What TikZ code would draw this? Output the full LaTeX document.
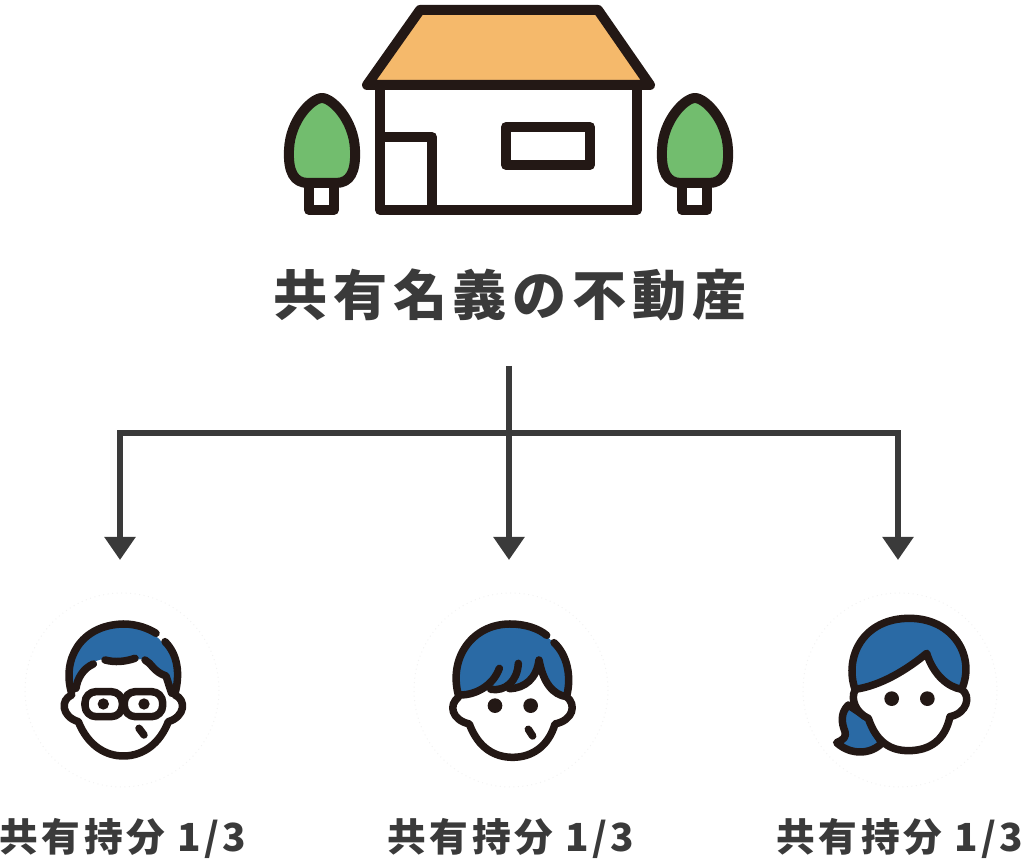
\documentclass[tikz,border=0pt]{standalone}
\usepackage{fontspec}
\usetikzlibrary{arrows.meta}
\newfontfamily\titlefont[LetterSpace=10.5]{Noto Sans CJK JP}
\newfontfamily\sharefont[LetterSpace=9]{Noto Sans CJK JP}
\definecolor{inkline}{HTML}{231815}
\definecolor{roofcol}{HTML}{F5B96B}
\definecolor{treecol}{HTML}{72BD6E}
\definecolor{haircol}{HTML}{2A6AA5}
\definecolor{textcol}{HTML}{3A3A3A}
\tikzset{
	ink/.style={draw=inkline, line width=0.1cm, line join=round, line cap=round},
	faceink/.style={draw=inkline, line width=0.075cm, line join=round, line cap=round},
	pupil/.style={fill=inkline},
	connector/.style={draw=textcol, line width=0.055cm},
	pointer/.style={connector, -{Triangle[width=0.3cm,length=0.23cm]}},
	faintring/.style={draw=black!5, line width=0.1mm, densely dotted},
	sharelabel/.style={text=textcol, font=\sharefont\bfseries\fontsize{11}{13}\selectfont, inner sep=0pt}
}
\begin{document}
\begin{tikzpicture}[x=0.01cm, y=-0.01cm]
	\useasboundingbox (0, 0) rectangle (1024, 868);
	
	%%%%% HOUSE %%%%%
	\draw[ink, fill=roofcol] (420, 10) -- (598, 10) -- (650, 85) -- (367, 85) -- cycle;
	\draw[ink] (380, 85) -- (380, 210) -- (637, 210) -- (637, 85);
	\draw[ink] (380, 137) -- (432, 137) -- (432, 210);
	\draw[ink] (506, 127) rectangle (590, 165);
	
	%%%%% TREES %%%%%
	\foreach \treex in {322, 695} {
		\draw[ink] (\treex-13, 183) -- (\treex-13, 210) -- (\treex+12, 210) -- (\treex+12, 183);
		\draw[ink, fill=treecol] (\treex, 98) .. controls (\treex+10, 98) and (\treex+32, 120) .. (\treex+33, 150)
			.. controls (\treex+34, 172) and (\treex+28, 183) .. (\treex+14, 183) -- (\treex-14, 183)
			.. controls (\treex-28, 183) and (\treex-34, 172) .. (\treex-33, 150)
			.. controls (\treex-32, 120) and (\treex-10, 98) .. (\treex, 98) -- cycle;
	}
	
	%%%%% TEXT %%%%%
	\node[text=textcol, font=\titlefont\bfseries\fontsize{15.4}{18}\selectfont, inner sep=0pt] (title) at (510, 295) {共有名義の不動産};
	\node[sharelabel] (sharea) at (123, 838) {共有持分 1/3};
	\node[sharelabel] (shareb) at (511, 838) {共有持分 1/3};
	\node[sharelabel] (sharec) at (900, 838) {共有持分 1/3};
	
	%%%%% CONNECTORS %%%%%
	\coordinate (stem) at (509, 366);
	\coordinate (split) at (509, 433);
	\coordinate (heada) at (120, 560);
	\coordinate (headb) at (509, 560);
	\coordinate (headc) at (898, 560);
	\draw[pointer] (stem) -- (headb);
	\draw[pointer] (split) -| (heada);
	\draw[pointer] (split) -| (headc);
	
	%%%%% RINGS %%%%%
	\draw[faintring] (122, 690) circle (97);
	\draw[faintring] (511, 690) circle (97);
	\draw[faintring] (900, 690) circle (97);
	
	%%%%% FIRST PERSON %%%%%
	\begin{scope}[shift={(40, 600)}, scale=1/3]
		\fill[haircol] (95, 285) .. controls (60, 180) and (120, 75) .. (250, 72) .. controls (340, 80) and (420, 140) .. (405, 285)
			.. controls (385, 220) and (340, 190) .. (315, 178) -- (185, 178) .. controls (130, 190) and (105, 240) .. (95, 285) -- cycle;
		\draw[faceink] (95, 280) .. controls (65, 180) and (120, 75) .. (250, 72) .. controls (290, 72) and (325, 85) .. (348, 100);
		\draw[faceink] (375, 125) .. controls (415, 165) and (420, 225) .. (405, 280);
		\draw[faceink] (108, 265) .. controls (112, 235) and (130, 205) .. (160, 192);
		\draw[faceink] (195, 180) .. controls (225, 188) and (255, 185) .. (285, 175);
		\draw[faceink] (315, 180) .. controls (335, 190) and (340, 215) .. (378, 228) -- (395, 280);
		\draw[faceink] (95, 285) .. controls (60, 300) and (65, 350) .. (115, 365)
			.. controls (145, 440) and (200, 468) .. (250, 468) .. controls (310, 468) and (360, 430) .. (385, 365)
			.. controls (435, 350) and (440, 300) .. (405, 285);
		\draw[faceink, rounded corners=0.11cm] (135, 275) rectangle (247, 350);
		\draw[faceink, rounded corners=0.11cm] (253, 275) rectangle (368, 350);
		\draw[faceink] (247, 300) -- (253, 300);
		\fill[pupil] (190, 312) circle (17);
		\fill[pupil] (312, 312) circle (17);
		\draw[faceink] (297, 385) -- (312, 405);
	\end{scope}
	
	%%%%% SECOND PERSON %%%%%
	\begin{scope}[shift={(430, 600)}, scale=1/3]
		\fill[haircol] (85, 285) .. controls (55, 170) and (130, 72) .. (240, 72) .. controls (340, 72) and (430, 150) .. (410, 288)
			.. controls (370, 285) and (340, 250) .. (327, 180) .. controls (320, 230) and (280, 270) .. (180, 265) .. controls (150, 285) and (120, 290) .. (85, 285) -- cycle;
		\draw[faceink] (85, 285) .. controls (55, 170) and (130, 72) .. (240, 72) .. controls (285, 72) and (325, 85) .. (350, 106);
		\draw[faceink] (372, 128) .. controls (412, 165) and (425, 230) .. (410, 288);
		\draw[faceink] (90, 285) .. controls (140, 285) and (190, 255) .. (208, 205);
		\draw[faceink] (182, 268) .. controls (225, 275) and (262, 245) .. (265, 190);
		\draw[faceink] (238, 266) .. controls (285, 265) and (320, 235) .. (327, 180)
			.. controls (340, 250) and (370, 285) .. (410, 290);
		\draw[faceink] (85, 292) .. controls (55, 315) and (65, 360) .. (118, 372)
			.. controls (145, 445) and (195, 472) .. (248, 472) .. controls (305, 472) and (355, 440) .. (375, 372)
			.. controls (430, 360) and (440, 315) .. (410, 290);
		\fill[pupil] (195, 317) circle (22);
		\fill[pupil] (302, 317) circle (22);
		\draw[faceink] (295, 388) -- (308, 408);
	\end{scope}
	
	%%%%% THIRD PERSON %%%%%
	\begin{scope}[shift={(820, 600)}, scale=1/3]
		\draw[faceink, fill=haircol] (85, 315) .. controls (60, 340) and (65, 370) .. (75, 395)
			.. controls (80, 410) and (70, 420) .. (50, 428)
			.. controls (90, 465) and (150, 465) .. (185, 430) -- (145, 355) -- cycle;
		\fill[white] (105, 270) .. controls (90, 300) and (110, 340) .. (145, 355)
			.. controls (170, 430) and (215, 452) .. (265, 452) .. controls (330, 452) and (375, 420) .. (390, 350)
			.. controls (440, 340) and (455, 290) .. (425, 268) -- cycle;
		\draw[faceink] (105, 270) .. controls (90, 300) and (110, 340) .. (145, 355)
			.. controls (170, 430) and (215, 452) .. (265, 452) .. controls (330, 452) and (375, 420) .. (390, 350)
			.. controls (440, 340) and (455, 290) .. (425, 268);
		\draw[faceink, fill=haircol] (105, 268) .. controls (72, 170) and (130, 55) .. (268, 55)
			.. controls (400, 55) and (468, 170) .. (425, 268)
			.. controls (385, 262) and (340, 225) .. (320, 160)
			.. controls (260, 210) and (180, 258) .. (105, 268) -- cycle;
		\fill[pupil] (215, 296) circle (22);
		\fill[pupil] (322, 296) circle (22);
	\end{scope}
\end{tikzpicture}
\end{document}
